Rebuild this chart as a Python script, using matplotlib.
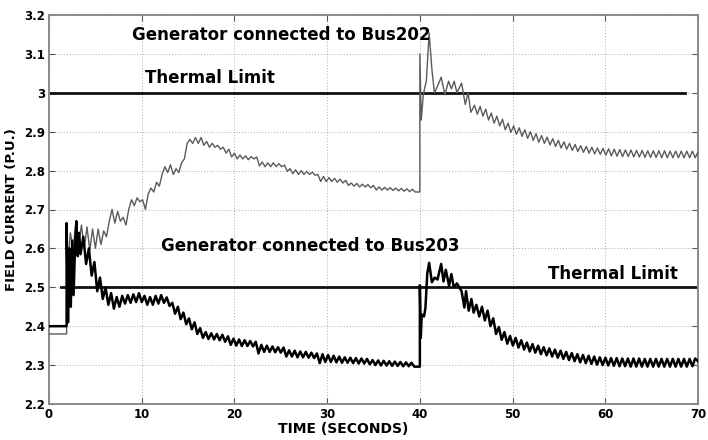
import numpy as np
import matplotlib
matplotlib.use("Agg")
import matplotlib.pyplot as plt

plt.rcParams['font.family'] = ['DejaVu Sans']

# ---------------- data ----------------
# Generator connected to Bus202 (grey trace)
bus202_pre_t = [0.0, 1.9, 1.9]
bus202_pre_v = [2.38, 2.38, 2.55]
bus202_a_start, bus202_a_end = 2.0, 39.8
bus202_a_v = [
    2.55, 2.64, 2.60, 2.665, 2.61, 2.66, 2.60, 2.655, 2.595, 2.65,
    2.60, 2.65, 2.61, 2.645, 2.63, 2.67, 2.70, 2.665, 2.695, 2.67,
    2.68, 2.66, 2.70, 2.725, 2.71, 2.73, 2.72, 2.725, 2.70, 2.74,
    2.755, 2.745, 2.77, 2.76, 2.79, 2.81, 2.795, 2.815, 2.79, 2.805,
    2.795, 2.82, 2.83, 2.87, 2.88, 2.87, 2.885, 2.87, 2.885, 2.865,
    2.875, 2.86, 2.87, 2.86, 2.865, 2.855, 2.86, 2.845, 2.855, 2.835,
    2.845, 2.83, 2.84, 2.83, 2.838, 2.828, 2.836, 2.83, 2.835, 2.812,
    2.822, 2.81, 2.82, 2.81, 2.82, 2.81, 2.818, 2.81, 2.814, 2.798,
    2.805, 2.792, 2.802, 2.79, 2.80, 2.79, 2.798, 2.79, 2.796, 2.788,
    2.79, 2.772, 2.785, 2.772, 2.782, 2.772, 2.78, 2.77, 2.778, 2.768,
    2.775, 2.762, 2.768, 2.76, 2.767, 2.758, 2.765, 2.758, 2.764, 2.756,
    2.762, 2.75, 2.758, 2.75, 2.757, 2.75, 2.756, 2.749, 2.755, 2.748,
    2.754, 2.747, 2.753, 2.746, 2.752, 2.745, 2.745,
]
bus202_jump_t = [40.0, 40.0, 40.15, 40.35, 40.5, 40.7, 41.0, 41.3, 41.57, 41.9,
                 42.3, 42.7, 43.1, 43.4, 43.7, 44.0, 44.5, 44.9, 45.2, 45.5, 45.9]
bus202_jump_v = [2.745, 3.10, 2.93, 2.99, 3.01, 3.03, 3.154, 3.06, 3.0, 3.017,
                 3.04, 2.995, 3.03, 3.01, 3.03, 3.0, 3.025, 2.97, 3.0, 2.95, 2.968]
bus202_b_start, bus202_b_end = 46.2, 70.0
bus202_b_v = [
    2.945, 2.965, 2.94, 2.958, 2.93, 2.948, 2.922, 2.94, 2.915, 2.932,
    2.905, 2.922, 2.898, 2.915, 2.893, 2.91, 2.888, 2.905, 2.883, 2.90,
    2.878, 2.895, 2.873, 2.89, 2.87, 2.886, 2.866, 2.882, 2.862, 2.878,
    2.858, 2.874, 2.855, 2.87, 2.852, 2.867, 2.849, 2.864, 2.847, 2.862,
    2.845, 2.86, 2.843, 2.858, 2.842, 2.857, 2.84, 2.856, 2.838, 2.855,
    2.837, 2.854, 2.836, 2.853, 2.836, 2.853, 2.835, 2.852, 2.835, 2.852,
    2.834, 2.851, 2.834, 2.851, 2.834, 2.851, 2.833, 2.851, 2.833, 2.85,
    2.833, 2.85, 2.833, 2.85, 2.833, 2.85, 2.833, 2.85, 2.833, 2.848,
]

# Generator connected to Bus203 (black trace)
bus203_pre_t = [0.0, 1.9, 1.9, 2.05, 2.2, 2.35, 2.5, 2.65, 2.8, 2.95, 3.1, 3.25]
bus203_pre_v = [2.40, 2.40, 2.665, 2.41, 2.60, 2.45, 2.62, 2.48, 2.60, 2.67, 2.58, 2.64]
bus203_a_start, bus203_a_end = 3.4, 39.7
bus203_a_v = [
    2.585, 2.63, 2.56, 2.60, 2.53, 2.565, 2.49, 2.525, 2.47, 2.50,
    2.455, 2.485, 2.445, 2.475, 2.45, 2.478, 2.458, 2.48, 2.46, 2.482,
    2.462, 2.485, 2.462, 2.478, 2.455, 2.475, 2.455, 2.478, 2.458, 2.48,
    2.46, 2.474, 2.452, 2.46, 2.432, 2.45, 2.418, 2.435, 2.405, 2.42,
    2.392, 2.41, 2.38, 2.395, 2.37, 2.385, 2.367, 2.382, 2.366, 2.38,
    2.364, 2.378, 2.36, 2.374, 2.352, 2.368, 2.35, 2.366, 2.349, 2.364,
    2.349, 2.362, 2.348, 2.36, 2.33, 2.352, 2.334, 2.35, 2.334, 2.348,
    2.333, 2.346, 2.332, 2.345, 2.322, 2.338, 2.322, 2.337, 2.32, 2.335,
    2.32, 2.334, 2.319, 2.332, 2.318, 2.33, 2.305, 2.328, 2.308, 2.326,
    2.308, 2.324, 2.307, 2.322, 2.306, 2.32, 2.306, 2.319, 2.305, 2.318,
    2.304, 2.317, 2.304, 2.316, 2.302, 2.313, 2.30, 2.312, 2.299, 2.311,
    2.299, 2.31, 2.298, 2.309, 2.298, 2.308, 2.297, 2.307, 2.297, 2.306,
    2.296, 2.296,
]
bus203_jump_t = [40.0, 40.0, 40.1, 40.2, 40.45, 40.6, 40.8, 41.0, 41.3, 41.6, 41.9,
                 42.3, 42.55, 42.8, 43.15, 43.4, 43.66, 44.0, 44.5, 44.8, 44.98,
                 45.27, 45.56, 45.8]
bus203_jump_v = [2.296, 2.505, 2.37, 2.43, 2.425, 2.447, 2.535, 2.563, 2.513, 2.525, 2.52,
                 2.56, 2.515, 2.545, 2.504, 2.534, 2.50, 2.51, 2.49, 2.448, 2.49,
                 2.44, 2.47, 2.435]
bus203_b_start, bus203_b_end = 46.1, 70.0
bus203_b_v = [
    2.455, 2.425, 2.45, 2.415, 2.44, 2.40, 2.42, 2.38, 2.398, 2.365,
    2.385, 2.355, 2.375, 2.35, 2.37, 2.345, 2.364, 2.34, 2.358, 2.335,
    2.354, 2.332, 2.35, 2.328, 2.346, 2.325, 2.343, 2.322, 2.34, 2.319,
    2.337, 2.316, 2.334, 2.313, 2.331, 2.31, 2.328, 2.307, 2.326, 2.305,
    2.324, 2.303, 2.322, 2.301, 2.32, 2.30, 2.319, 2.299, 2.318, 2.298,
    2.318, 2.297, 2.317, 2.297, 2.317, 2.296, 2.317, 2.296, 2.317, 2.296,
    2.316, 2.296, 2.316, 2.296, 2.316, 2.296, 2.316, 2.296, 2.316, 2.296,
    2.316, 2.296, 2.316, 2.296, 2.316, 2.296, 2.316, 2.297, 2.317, 2.31,
]

limit_upper = 3.0
limit_upper_span = (0.0, 68.6)
limit_lower = 2.5
limit_lower_span = (1.25, 70.0)

x_ticks = [0, 10, 20, 30, 40, 50, 60, 70]
y_ticks = [2.2, 2.3, 2.4, 2.5, 2.6, 2.7, 2.8, 2.9, 3.0, 3.1, 3.2]
y_tick_labels = ['2.2', '2.3', '2.4', '2.5', '2.6', '2.7', '2.8', '2.9', '3', '3.1', '3.2']


def build(pre_t, pre_v, a_start, a_end, a_v, jt, jv, b_start, b_end, b_v):
    t = np.concatenate([pre_t, np.linspace(a_start, a_end, len(a_v)), jt,
                        np.linspace(b_start, b_end, len(b_v))])
    v = np.concatenate([pre_v, a_v, jv, b_v])
    return t, v


t202, v202 = build(bus202_pre_t, bus202_pre_v, bus202_a_start, bus202_a_end, bus202_a_v,
                   bus202_jump_t, bus202_jump_v, bus202_b_start, bus202_b_end, bus202_b_v)
t203, v203 = build(bus203_pre_t, bus203_pre_v, bus203_a_start, bus203_a_end, bus203_a_v,
                   bus203_jump_t, bus203_jump_v, bus203_b_start, bus203_b_end, bus203_b_v)

# ---------------- figure ----------------
fig = plt.figure(figsize=(7.08, 4.40), dpi=100)
ax = fig.add_axes([49 / 708, 1 - 404 / 440, 649 / 708, 389 / 440])

ax.plot(t202, v202, color='#5a5a5a', lw=1.0, zorder=3)
ax.plot(t203, v203, color='black', lw=1.8, zorder=4)
ax.plot(limit_upper_span, [limit_upper, limit_upper], color='#111111', lw=2.0, zorder=2)
ax.plot(limit_lower_span, [limit_lower, limit_lower], color='#111111', lw=2.0, zorder=2)

ax.set_xlim(0, 70)
ax.set_ylim(2.2, 3.2)
ax.set_xticks(x_ticks)
ax.set_xticklabels([str(x) for x in x_ticks], fontsize=8.5, fontweight='bold')
ax.set_yticks(y_ticks)
ax.set_yticklabels(y_tick_labels, fontsize=8.5, fontweight='bold')
ax.tick_params(direction='in', length=4, top=True, right=True, color='#555555', width=0.8, pad=3)
ax.grid(True, linestyle=(0, (1, 2)), color='#aaaaaa', lw=0.7)
for s in ax.spines.values():
    s.set_color('#8a8a8a')
    s.set_linewidth(1.4)

ax.set_xlabel('TIME (SECONDS)', fontsize=10, fontweight='bold', labelpad=1)
ax.xaxis.set_label_coords((343 - 49) / 649, -0.045)
ax.set_ylabel('FIELD CURRENT (P.U.)', fontsize=9.5, fontweight='bold', labelpad=4)

ax.text(9.0, 3.148, 'Generator connected to Bus202', fontsize=12, fontweight='bold',
        va='center', ha='left', zorder=5)
ax.text(10.4, 3.038, 'Thermal Limit', fontsize=12, fontweight='bold', va='center', ha='left', zorder=5)
ax.text(12.1, 2.607, 'Generator connected to Bus203', fontsize=12, fontweight='bold',
        va='center', ha='left', zorder=5)
ax.text(53.8, 2.535, 'Thermal Limit', fontsize=12, fontweight='bold', va='center', ha='left', zorder=5)

fig.savefig('out.png', dpi=100)
